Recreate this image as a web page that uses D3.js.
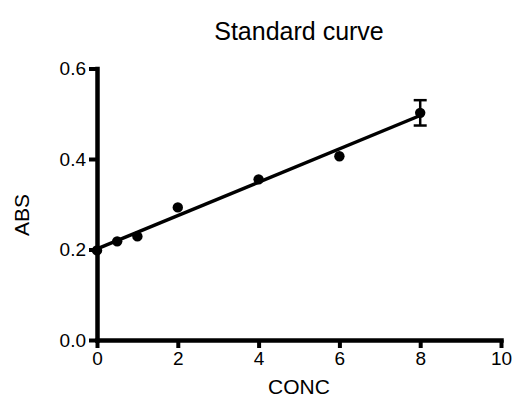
<!DOCTYPE html>
<html><head><meta charset="utf-8">
<script src="https://cdn.jsdelivr.net/npm/d3@7"></script>
<style>body{margin:0;background:#fff}svg{display:block}text{font-family:"Liberation Sans",Arial,sans-serif;fill:#000}</style>
</head><body>
<script>
const conc = [0, 0.5, 1, 2, 4, 6, 8];
const abs = [0.198, 0.218, 0.229, 0.293, 0.355, 0.406, 0.502];
const absErr = [0, 0, 0, 0, 0, 0, 0.028];
const xTicks = [0, 2, 4, 6, 8, 10];
const yTicks = [0.0, 0.2, 0.4, 0.6];
const title = "Standard curve";
const xLabel = "CONC";
const yLabel = "ABS";

const W = 512, H = 405;
const svg = d3.select("body").append("svg").attr("width", W).attr("height", H);
const x = d3.scaleLinear().domain([0, 10]).range([97, 501]);
const y = d3.scaleLinear().domain([0, 0.6]).range([340, 68.5]);

// linear regression
const n = conc.length;
const mx = d3.mean(conc), my = d3.mean(abs);
let sxy = 0, sxx = 0;
for (let i = 0; i < n; i++) { sxy += (conc[i]-mx)*(abs[i]-my); sxx += (conc[i]-mx)**2; }
const slope = sxy / sxx, icpt = my - slope * mx;

const xAxis = svg.append("g").attr("transform", `translate(0,${y(0)})`)
  .call(d3.axisBottom(x).tickValues(xTicks).tickFormat(d3.format("d")).tickSize(8).tickSizeOuter(0).tickPadding(4));
const yAxis = svg.append("g").attr("transform", `translate(${x(0)},0)`)
  .call(d3.axisLeft(y).tickValues(yTicks).tickFormat(d3.format(".1f")).tickSize(8).tickSizeOuter(0).tickPadding(3));
[xAxis, yAxis].forEach(g => {
  g.select(".domain").attr("stroke", "#000").attr("stroke-width", 4.5).attr("stroke-linecap", "square");
  g.selectAll(".tick line").attr("stroke", "#000").attr("stroke-width", 4);
  g.selectAll(".tick text").attr("font-size", 19).attr("font-family", "Liberation Sans, Arial, sans-serif").attr("fill", "#000");
});

// fit line
svg.append("line")
  .attr("x1", x(0)).attr("y1", y(icpt))
  .attr("x2", x(d3.max(conc))).attr("y2", y(icpt + slope * d3.max(conc)))
  .attr("stroke", "#000").attr("stroke-width", 3.5);

// error bars
const eb = svg.append("g");
conc.forEach((c, i) => {
  if (absErr[i] > 0) {
    const cx = x(c), hi = y(abs[i] + absErr[i]), lo = y(abs[i] - absErr[i]);
    eb.append("line").attr("x1", cx).attr("x2", cx).attr("y1", hi).attr("y2", lo).attr("stroke", "#000").attr("stroke-width", 2.5);
    eb.append("line").attr("x1", cx-6.5).attr("x2", cx+6.5).attr("y1", hi).attr("y2", hi).attr("stroke", "#000").attr("stroke-width", 2.5);
    eb.append("line").attr("x1", cx-6.5).attr("x2", cx+6.5).attr("y1", lo).attr("y2", lo).attr("stroke", "#000").attr("stroke-width", 2.5);
  }
});

// points
svg.append("g").selectAll("circle").data(conc).join("circle")
  .attr("cx", (d) => x(d)).attr("cy", (d, i) => y(abs[i])).attr("r", 5.2).attr("fill", "#000");

svg.append("text").attr("x", 299).attr("y", 40).attr("text-anchor", "middle").attr("font-size", 25).text(title);
svg.append("text").attr("x", 299).attr("y", 394).attr("text-anchor", "middle").attr("font-size", 21).text(xLabel);
svg.append("text").attr("transform", "translate(29,215) rotate(-90)").attr("text-anchor", "middle").attr("font-size", 21).text(yLabel);
</script>
</body></html>
